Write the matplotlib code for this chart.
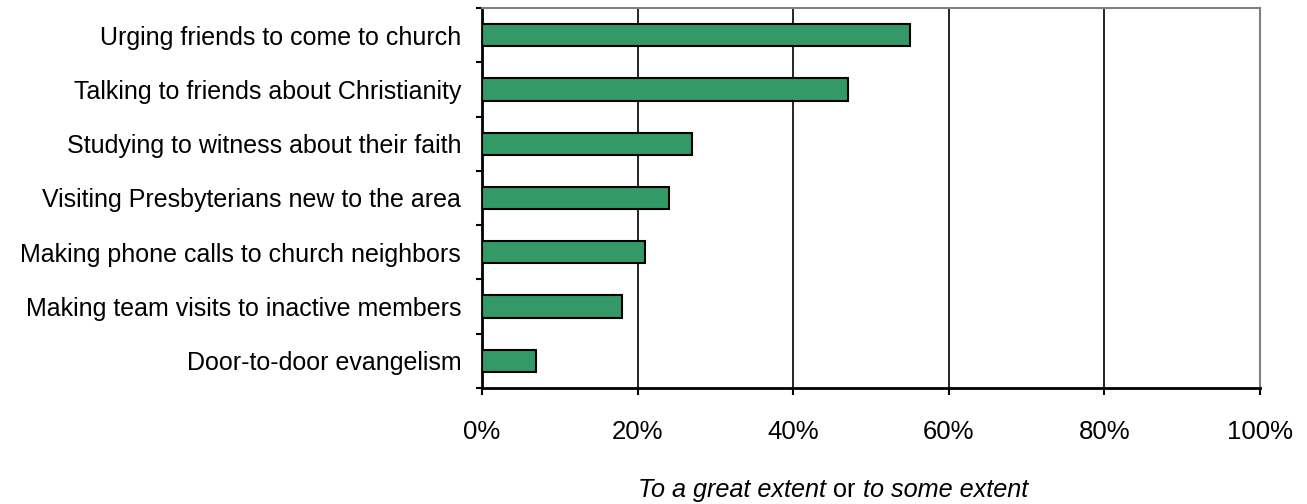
import numpy as np
import matplotlib
matplotlib.use("Agg")
import matplotlib.pyplot as plt
from matplotlib.ticker import FixedLocator, PercentFormatter

plt.rcParams['font.family'] = ['Liberation Sans', 'DejaVu Sans']

activities = [
    "Urging friends to come to church",
    "Talking to friends about Christianity",
    "Studying to witness about their faith",
    "Visiting Presbyterians new to the area",
    "Making phone calls to church neighbors",
    "Making team visits to inactive members",
    "Door-to-door evangelism",
]
percent = [55, 47, 27, 24, 21, 18, 7]
x_ticks = [0, 20, 40, 60, 80, 100]

fig = plt.figure(figsize=(13.07, 5.04), dpi=100)
ax = fig.add_axes([482 / 1307, 1 - 388 / 504, (1260 - 482) / 1307, (388 - 8) / 504])

pos = np.arange(len(activities))
ax.barh(pos, percent, height=0.41, color="#339966", edgecolor="black",
        linewidth=1.5, zorder=3)

ax.set_xlim(0, 100)
ax.set_ylim(len(activities) - 0.5, -0.5)

# vertical gridlines at 20..80
for v in x_ticks[1:-1]:
    ax.axvline(v, color="black", linewidth=1.2, zorder=1)

ax.set_xticks(x_ticks)
ax.xaxis.set_major_formatter(PercentFormatter(decimals=0))
ax.tick_params(axis="x", direction="out", length=5, width=1.5, pad=18,
               labelsize=18.5)

# category labels at bar centres, tick marks between categories
ax.set_yticks(pos)
ax.set_yticklabels(activities)
ax.yaxis.set_minor_locator(FixedLocator(np.arange(-0.5, len(activities), 1)))
ax.tick_params(axis="y", which="major", length=0, pad=15, labelsize=18)
ax.tick_params(axis="y", which="minor", direction="out", length=4.5, width=1.5)

ax.spines["left"].set_linewidth(2)
ax.spines["bottom"].set_linewidth(2)
for side in ("top", "right"):
    ax.spines[side].set_color("#808080")
    ax.spines[side].set_linewidth(1.5)

# x axis caption with mixed italic / upright parts
parts = [("To a great extent", "italic"), (" or ", "normal"),
         ("to some extent", "italic")]
fig.canvas.draw()
renderer = fig.canvas.get_renderer()
texts = []
widths = []
for s, style in parts:
    t = fig.text(0, 0, s, fontsize=18.2, style=style, va="center")
    widths.append(t.get_window_extent(renderer).width)
    texts.append(t)
x0 = 833 - sum(widths) / 2
for t, w in zip(texts, widths):
    t.set_position((x0 / 1307, 1 - 490 / 504))
    x0 += w

fig.savefig("out.png", dpi=100)
